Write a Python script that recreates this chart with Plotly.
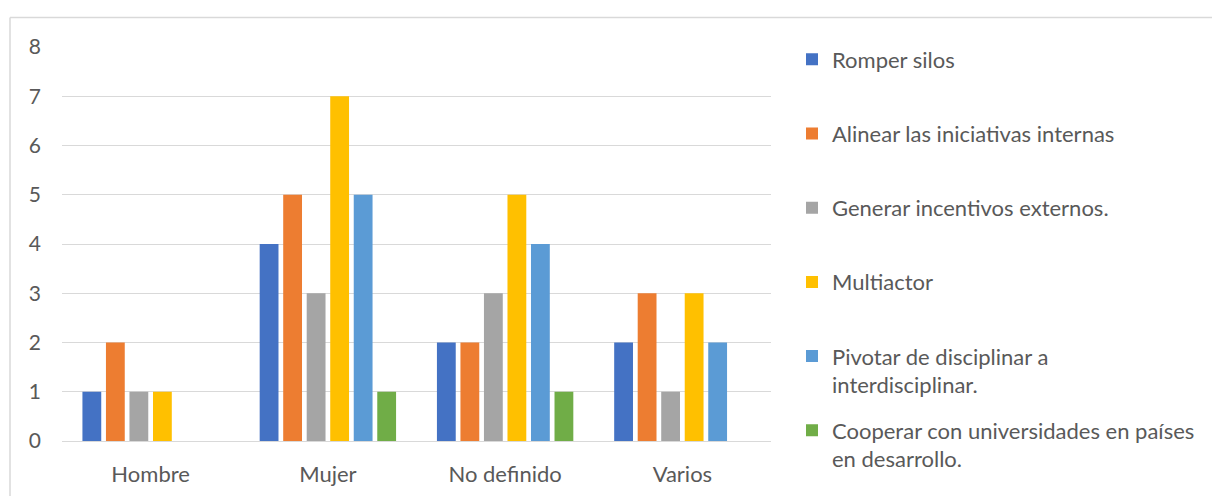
import plotly.graph_objects as go

# Categories and series
categories = ["Hombre", "Mujer", "No definido", "Varios"]
series_names = [
    "Romper silos",
    "Alinear las iniciativas internas",
    "Generar incentivos externos.",
    "Multiactor",
    "Pivotar de disciplinar a<br>interdisciplinar.",
    "Cooperar con universidades en países<br>en desarrollo.",
]
romper_silos = [1, 4, 2, 2]
alinear_iniciativas = [2, 5, 2, 3]
generar_incentivos = [1, 3, 3, 1]
multiactor = [1, 7, 5, 3]
pivotar = [0, 5, 4, 2]
cooperar = [0, 1, 1, 0]
y_ticks = [0, 1, 2, 3, 4, 5, 6, 7, 8]

values = [romper_silos, alinear_iniciativas, generar_incentivos,
          multiactor, pivotar, cooperar]
colors = ["#4472C4", "#ED7D31", "#A5A5A5", "#FFC000", "#5B9BD5", "#70AD47"]

W, H = 1212, 496
ML, MR, MT, MB = 62, 441, 46.5, 55
font_family = "Lato"
text_color = "#595959"
grid_color = "#D9D9D9"

fig = go.Figure()
for i, (name, vals, col) in enumerate(zip(series_names, values, colors)):
    # every legend entry takes two lines so entries are evenly spaced
    label = name if "<br>" in name else name + "<br> "
    fig.add_trace(go.Bar(
        x=categories, y=vals, name=label, marker_color=col,
        marker_line_width=0, legendgroup=f"g{i}",
    ))

pw = W - ML - MR
ph = H - MT - MB

def px_x(px):
    return (px - ML) / pw

def px_y(py):
    return (H - MB - py) / ph

# chart frame (top and left edges; the others run past the page)
fig.add_shape(type="line", xref="paper", yref="paper",
              x0=px_x(10), x1=px_x(1240), y0=px_y(17), y1=px_y(17),
              line=dict(color=grid_color, width=1.5))
fig.add_shape(type="line", xref="paper", yref="paper",
              x0=px_x(10), x1=px_x(10), y0=px_y(17), y1=px_y(520),
              line=dict(color=grid_color, width=1.5))

fig.update_layout(
    width=W, height=H,
    margin=dict(l=ML, r=MR, t=MT, b=MB, pad=0, autoexpand=False),
    paper_bgcolor="white", plot_bgcolor="white",
    barmode="group", bargap=0.204, bargroupgap=0.2,
    font=dict(family=font_family, size=22, color=text_color),
    showlegend=True,
    legend=dict(
        x=px_x(792), xanchor="left", y=px_y(38), yanchor="top",
        font=dict(family=font_family, size=22, color=text_color),
        tracegroupgap=14, valign="top", bgcolor="rgba(0,0,0,0)",
        maxheight=1.0, itemclick=False, itemdoubleclick=False,
    ),
    xaxis=dict(showgrid=False, showline=False, ticks="",
               ticklabelstandoff=18, tickfont=dict(size=22, color=text_color)),
    yaxis=dict(range=[0, 8], tickvals=y_ticks, showgrid=True,
               gridcolor=grid_color, gridwidth=1.3, zeroline=True,
               zerolinecolor=grid_color, zerolinewidth=1.3,
               showline=False, ticks="", ticklabelstandoff=20,
               tickfont=dict(size=21, color=text_color)),
)

fig.write_html("out.html")
